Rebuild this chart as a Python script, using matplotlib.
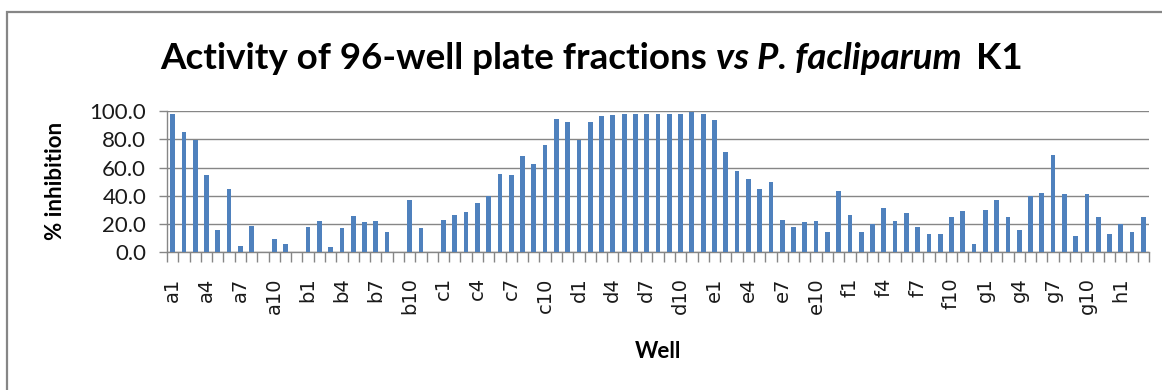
import matplotlib
matplotlib.use("Agg")
import matplotlib.pyplot as plt
from matplotlib.patches import Rectangle
from matplotlib.ticker import FixedLocator, FuncFormatter

# Plate layout: rows a-h, columns 1-12; the run covers a1 .. h3
rows = "abcdefgh"
wells = [f"{r}{c}" for r in rows for c in range(1, 13)][:87]

# % inhibition per well
inhibition = [
    # a1 - a12
    98.1, 85.3, 79.6, 54.6, 15.6, 44.7, 4.7, 18.9, 0.0, 9.7, 6.1, 0.0,
    # b1 - b12
    18.2, 22.2, 3.8, 17.2, 25.7, 21.3, 22.2, 14.6, 0.0, 36.9, 17.2, 0.0,
    # c1 - c12
    23.1, 26.5, 28.4, 35.0, 39.5, 55.5, 54.6, 68.1, 62.4, 75.9, 94.5, 92.2,
    # d1 - d12
    79.6, 92.2, 96.7, 97.4, 98.1, 98.1, 98.1, 98.1, 98.1, 98.1, 99.0, 98.1,
    # e1 - e12
    93.8, 70.9, 57.2, 52.0, 44.7, 49.6, 23.1, 17.9, 21.3, 22.2, 14.6, 43.7,
    # f1 - f12
    26.5, 14.6, 20.1, 31.6, 22.2, 28.1, 17.9, 13.0, 13.0, 24.8, 29.1, 6.1,
    # g1 - g12
    30.0, 36.9, 24.8, 15.6, 39.5, 41.8, 69.2, 41.1, 11.3, 41.1, 24.8, 13.0,
    # h1 - h3
    20.1, 14.6, 24.8,
]

y_ticks = [0, 20, 40, 60, 80, 100]

BAR = "#4F81BD"
GRAY = "#868686"
W, H = 1162, 390

fig = plt.figure(figsize=(W / 100, H / 100), dpi=100)
fig.patch.set_facecolor("white")

# chart-area frame (continues past the right and bottom edges)
fig.patches.append(Rectangle((7 / W, -0.2), 1.5, 1 - 12 / H + 0.2,
                             transform=fig.transFigure, fill=False,
                             edgecolor=GRAY, linewidth=1.6, clip_on=False))

ax = fig.add_axes([167 / W, 1 - 252.3 / H, 982 / W, 141.3 / H])
x = list(range(len(wells)))
ax.bar(x, inhibition, width=0.42, color=BAR, zorder=3)

ax.set_xlim(-0.5, len(wells) - 0.5)
ax.set_ylim(0, 100)

# y axis
ax.yaxis.set_major_locator(FixedLocator(y_ticks))
ax.yaxis.set_major_formatter(FuncFormatter(lambda v, p: f"{v:.1f}"))
ax.grid(axis="y", color=GRAY, linewidth=1.0, zorder=0)
ax.set_axisbelow(True)
ax.tick_params(axis="y", direction="out", length=6, width=1.0, color=GRAY,
               pad=9, labelsize=16, labelcolor="#1a1a1a")
for lab in ax.get_yticklabels():
    lab.set_fontfamily("Lato")

# x axis: marks between wells, a label on every third well
ax.set_xticks(x[::3])
ax.set_xticklabels(wells[::3], rotation=90, fontsize=14,
                   fontfamily="DejaVu Sans", color="#1a1a1a")
ax.set_xticks([i - 0.5 for i in range(len(wells) + 1)], minor=True)
ax.tick_params(axis="x", which="major", length=0, pad=18)
ax.tick_params(axis="x", which="minor", direction="out", length=7,
               width=1.0, color=GRAY)

for side in ("top", "right"):
    ax.spines[side].set_visible(False)
for side in ("left", "bottom"):
    ax.spines[side].set_color(GRAY)
    ax.spines[side].set_linewidth(1.0)

# axis titles
fig.text(55 / W, 1 - 181 / H, "% inhibition", rotation=90, ha="center",
         va="center", fontsize=16, fontweight="bold", fontfamily="Lato")
fig.text(658 / W, 1 - 358 / H, "Well", ha="center", va="baseline",
         fontsize=16, fontweight="bold", fontfamily="Lato")

# chart title with an italic middle part
title_parts = ["Activity of 96-well plate fractions", "vs P. facliparum", "K1"]
title_styles = ["normal", "italic", "normal"]
title_size = 26.5
base_y = 1 - 69 / H
texts = [fig.text(0, base_y, s, fontsize=title_size, fontweight="bold",
                  fontstyle=st, fontfamily="Lato", va="baseline", ha="left")
         for s, st in zip(title_parts, title_styles)]
renderer = fig.canvas.get_renderer()


def px_width(s, **kw):
    t = fig.text(0, 0, s, fontsize=title_size, fontweight="bold",
                 fontfamily="Lato", **kw)
    wdt = t.get_window_extent(renderer=renderer).width
    t.remove()
    return wdt


space = px_width("a a") - px_width("aa")
gaps = [space, space * 1.6]
widths = [t.get_window_extent(renderer=renderer).width for t in texts]
total = sum(widths) + sum(gaps)
cursor = 591.5 - total / 2
for i, t in enumerate(texts):
    t.set_x(cursor / W)
    cursor += widths[i] + (gaps[i] if i < len(gaps) else 0)

fig.savefig("out.png", dpi=100, facecolor="white")
